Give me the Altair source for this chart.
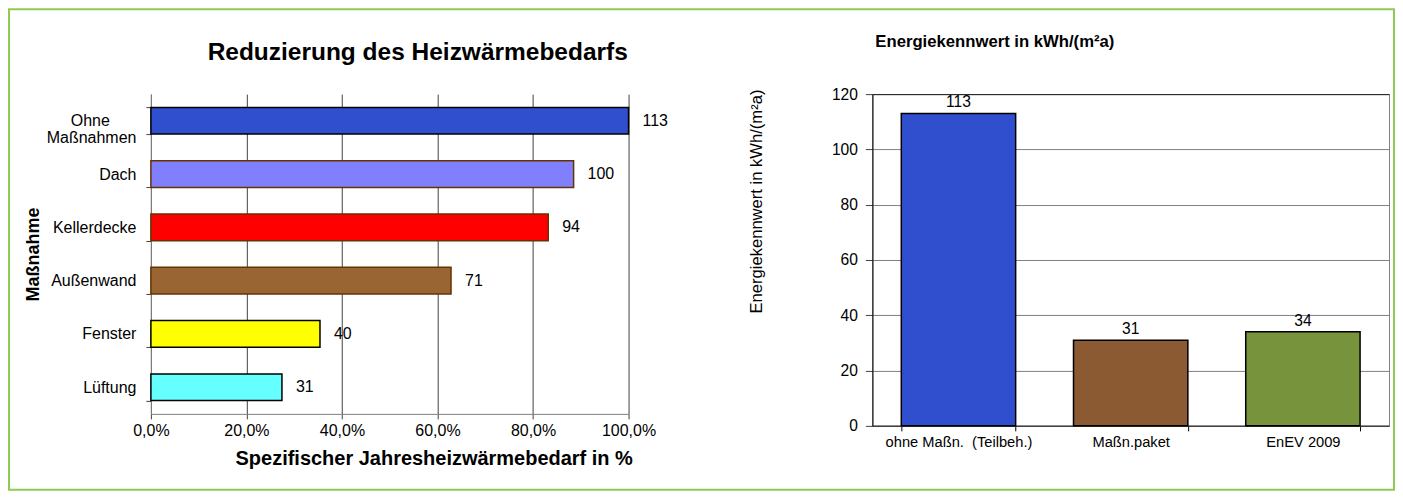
import altair as alt
import pandas as pd

# ---------------- data ----------------
left_categories = ["Ohne Maßnahmen", "Dach", "Kellerdecke", "Außenwand", "Fenster", "Lüftung"]
left_values = [113, 100, 94, 71, 40, 31]
left_fill = ["#2F4FCF", "#8080FF", "#FF0000", "#996633", "#FFFF00", "#66FFFF"]
left_stroke = ["#000000", "#663300", "#663300", "#663300", "#000000", "#000000"]
left_ticks = [0.0, 0.2, 0.4, 0.6, 0.8, 1.0]

right_categories = ["ohne Maßn.\u00a0 (Teilbeh.)", "Maßn.paket", "EnEV 2009"]
right_values = [113, 31, 34]
right_fill = ["#2F4FCF", "#8B5A33", "#77933C"]
right_ticks = [0, 20, 40, 60, 80, 100, 120]

FONT = "Liberation Sans"

df_l = pd.DataFrame({"cat": left_categories, "val": left_values})
df_l["share"] = df_l["val"] / left_values[0]

df_r = pd.DataFrame({"kat": right_categories, "val": right_values})

# ---------------- left chart ----------------
LW, LH = 478, 320
yl = alt.Y(
    "cat:N",
    sort=left_categories,
    scale=alt.Scale(paddingInner=0.5, paddingOuter=0.25),
    axis=alt.Axis(
        title="Maßnahme",
        titleFont=FONT, titleFontSize=18, titleFontWeight="bold", titleColor="black",
        titlePadding=4,
        labelFont=FONT, labelFontSize=16, labelColor="black", labelPadding=10,
        labelExpr="datum.value == 'Ohne Maßnahmen' ? ['Ohne\u00a0\u00a0\u00a0\u00a0\u00a0\u00a0\u200b', 'Maßnahmen'] : datum.value",
        labelLineHeight=17, labelLimit=200,
        tickBand="extent", tickSize=5, tickColor="#404040",
        domainColor="#808080", grid=False,
    ),
)
xl = alt.X(
    "share:Q",
    scale=alt.Scale(domain=[0, 1], nice=False),
    axis=alt.Axis(
        values=left_ticks,
        labelExpr="replace(format(datum.value, '.1%'), '.', ',')",
        labelFlush=False,
        title="Spezifischer Jahresheizwärmebedarf in %",
        titleFont=FONT, titleFontSize=20, titleFontWeight="bold", titleColor="black",
        titleX=283, titlePadding=10,
        labelFont=FONT, labelFontSize=16, labelColor="black", labelPadding=4,
        grid=True, gridColor="#404040", gridOpacity=1, gridWidth=1,
        tickSize=5, tickColor="#404040", domainColor="#808080",
    ),
)
bars_l = alt.Chart(df_l).mark_bar(strokeWidth=1.5).encode(
    y=yl,
    x=xl,
    fill=alt.Fill("cat:N", scale=alt.Scale(domain=left_categories, range=left_fill), legend=None),
    stroke=alt.Stroke("cat:N", scale=alt.Scale(domain=left_categories, range=left_stroke), legend=None),
)
text_l = alt.Chart(df_l).mark_text(
    align="left", baseline="middle", dx=14, font=FONT, fontSize=16, color="black"
).encode(
    y=alt.Y("cat:N", sort=left_categories),
    x="share:Q",
    text="val:Q",
)
frame = alt.Chart(alt.Data(values=[{"a": 1}])).mark_rect(
    fill=None, stroke="#8FCB52", strokeWidth=2
).encode(
    x=alt.value(-142), x2=alt.value(1244),
    y=alt.value(-85), y2=alt.value(396),
)
left = alt.layer(frame, bars_l, text_l).properties(
    width=LW, height=LH,
    title=alt.TitleParams(
        "Reduzierung des Heizwärmebedarfs",
        font=FONT, fontSize=24.5, fontWeight="bold", color="black",
        anchor="middle", frame="group", dx=28, offset=-57,
    ),
    view=alt.ViewBackground(stroke=None),
)

# ---------------- right chart ----------------
RW, RH = 517, 332
xr = alt.X(
    "kat:N",
    sort=right_categories,
    scale=alt.Scale(paddingInner=0.336, paddingOuter=0.168),
    axis=alt.Axis(
        title=None, labelAngle=0,
        labelFont=FONT, labelFontSize=14.7, labelColor="black", labelPadding=4,
        tickBand="extent", tickSize=5, tickColor="black", domainColor="#404040", domainWidth=1.5,
    ),
)
yr = alt.Y(
    "val:Q",
    scale=alt.Scale(domain=[0, 120], nice=False),
    axis=alt.Axis(
        values=right_ticks,
        title="Energiekennwert in kWh/(m²a)",
        titleFont=FONT, titleFontSize=16.6, titleFontWeight="normal", titleColor="black",
        titleX=-116, titleY=107, titleBaseline="middle", titleAlign="center", titleAngle=270,
        labelFont=FONT, labelFontSize=15.6, labelColor="black", labelPadding=8,
        grid=True,
        gridColor={"condition": {"test": "datum.value == 120", "value": "#202020"}, "value": "#808080"},
        gridOpacity=1, gridWidth=1,
        tickSize=7, tickColor="#404040", domainColor="black",
    ),
)
bars_r = alt.Chart(df_r).mark_bar(stroke="black", strokeWidth=1.5).encode(
    x=xr,
    y=yr,
    fill=alt.Fill("kat:N", scale=alt.Scale(domain=right_categories, range=right_fill), legend=None),
)
text_r = alt.Chart(df_r).mark_text(
    align="center", baseline="bottom", dy=-3, font=FONT, fontSize=15.6, color="black"
).encode(
    x=alt.X("kat:N", sort=right_categories),
    y="val:Q",
    text="val:Q",
)
right = alt.layer(bars_r, text_r).properties(
    width=RW, height=RH,
    title=alt.TitleParams(
        "Energiekennwert in kWh/(m²a)",
        font=FONT, fontSize=16.7, fontWeight="bold", color="black",
        anchor="start", frame="group", dx=3, offset=36,
    ),
    view=alt.ViewBackground(stroke="#808080"),
)

chart = alt.hconcat(left, right, spacing=244, bounds="flush").resolve_scale(
    fill="independent", stroke="independent"
).properties(
    padding={"left": 0, "top": 0, "right": 0, "bottom": 0},
).configure(background="white")

chart.save("out.html", embed_options={"renderer": "svg", "actions": False})
